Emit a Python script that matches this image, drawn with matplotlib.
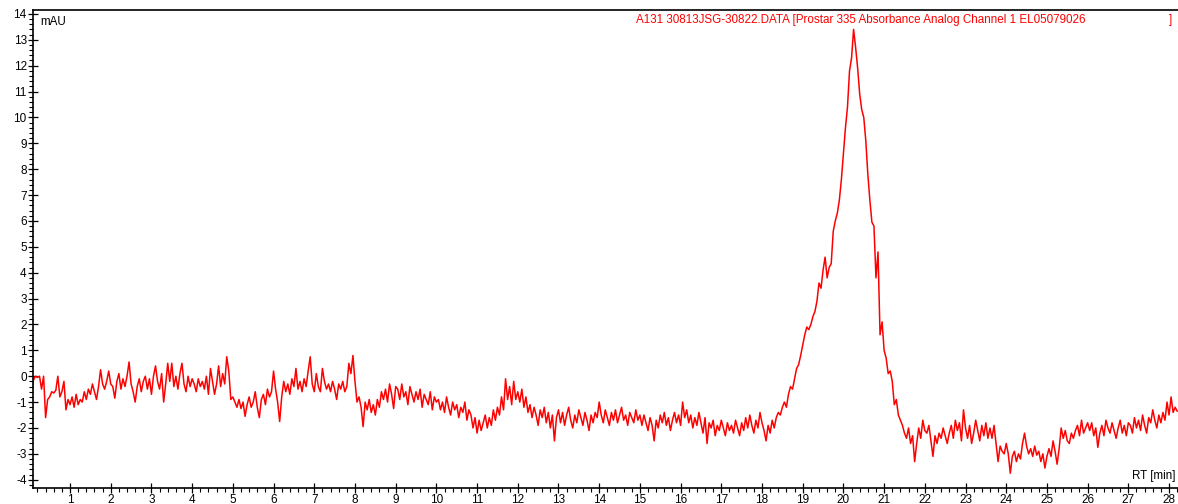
import numpy as np
import matplotlib
matplotlib.use("Agg")
import matplotlib.pyplot as plt
from matplotlib.ticker import MultipleLocator

# ---- data ----
rt_start = 0.05      # first sample time [min]
rt_step = 0.05       # sampling interval [min]

mau_values = [
    # 0.05 - 1.00
    -0.8, -0.15, 0.0, -0.05, 0.0, -0.5, 0.0, -1.6, -0.9, -0.8, -0.6, -0.65, -0.55, 0.0, -0.8, -0.6, -0.2, -1.3, -0.9, -1.1,
    # 1.05 - 2.00
    -0.8, -1.2, -0.7, -1.1, -0.9, -1.0, -0.6, -0.9, -0.5, -0.7, -0.3, -0.6, -0.9, -0.4, 0.25, -0.3, -0.5, -0.2, 0.2, -0.3,
    # 2.05 - 3.00
    -0.4, -0.85, -0.2, 0.1, -0.5, -0.1, -0.4, 0.0, 0.55, -0.3, -0.6, -1.0, -0.4, -0.1, -0.6, -0.2, 0.0, -0.5, -0.1, -0.7,
    # 3.05 - 4.00
    0.0, 0.4, -0.2, -0.5, 0.1, -1.0, -0.3, 0.5, -0.2, 0.5, -0.4, 0.0, -0.5, 0.1, 0.5, -0.3, -0.6, 0.0, -0.4, -0.1,
    # 4.05 - 5.00
    -0.3, -0.6, -0.1, -0.4, -0.2, -0.5, 0.0, -0.7, 0.3, -0.2, -0.7, -0.3, 0.4, -0.4, 0.1, -0.3, 0.75, 0.2, -0.9, -0.8,
    # 5.05 - 6.00
    -1.0, -1.2, -0.9, -1.25, -1.0, -1.55, -1.1, -0.8, -1.2, -1.0, -0.6, -1.2, -1.6, -0.9, -0.7, -1.1, -0.5, -0.8, -0.6, 0.2,
    # 6.05 - 7.00
    -0.5, -1.0, -1.75, -0.8, -0.2, -0.6, -0.3, -0.7, -0.1, -0.4, 0.3, -0.5, -0.2, -0.6, -0.1, -0.4, 0.2, 0.75, -0.3, -0.6,
    # 7.05 - 8.00
    0.1, -0.4, -0.6, 0.3, -0.2, -0.5, -0.3, -0.6, -0.2, -0.5, -0.9, -0.3, -0.5, -0.2, -0.6, -0.4, 0.5, 0.1, 0.8, -0.2,
    # 8.05 - 9.00
    -1.0, -0.8, -1.2, -1.95, -1.0, -1.3, -0.9, -1.4, -1.1, -1.5, -0.9, -1.2, -0.6, -0.9, -0.5, -1.0, -0.3, -0.7, -1.25, -0.4,
    # 9.05 - 10.00
    -0.5, -0.9, -0.3, -0.8, -0.6, -1.1, -0.4, -0.7, -1.0, -0.6, -0.9, -0.5, -1.2, -0.7, -0.9, -1.1, -0.6, -1.3, -0.8, -1.0,
    # 10.05 - 11.00
    -0.9, -1.3, -1.0, -1.4, -0.8, -1.2, -1.5, -1.0, -1.3, -1.1, -1.6, -1.2, -1.4, -1.0, -1.7, -1.3, -1.5, -2.0, -1.6, -2.2,
    # 11.05 - 12.00
    -1.7, -2.1, -1.8, -1.5, -2.0, -1.6, -1.9, -1.3, -1.7, -1.2, -1.5, -0.8, -1.3, -0.1, -0.9, -0.4, -1.1, -0.2, -0.9, -0.6,
    # 12.05 - 13.00
    -1.0, -0.5, -1.2, -0.8, -1.4, -1.1, -1.6, -1.2, -1.5, -1.9, -1.3, -1.6, -1.2, -1.8, -1.4, -2.0, -1.5, -2.5, -1.6, -1.3,
    # 13.05 - 14.00
    -1.8, -1.4, -1.9, -1.5, -1.2, -1.7, -2.0, -1.5, -1.8, -1.3, -1.6, -1.9, -1.4, -1.7, -2.1, -1.5, -1.8, -1.4, -1.6, -1.0,
    # 14.05 - 15.00
    -1.5, -1.8, -1.3, -1.6, -1.9, -1.4, -1.7, -1.3, -1.8, -1.5, -1.2, -1.7, -1.5, -1.9, -1.4, -1.6, -1.8, -1.3, -1.7, -1.5,
    # 15.05 - 16.00
    -1.9, -1.5, -1.8, -2.1, -1.6, -1.9, -2.5, -1.7, -2.0, -1.5, -1.8, -1.4, -1.9, -1.6, -2.1, -1.7, -1.4, -1.8, -1.5, -1.9,
    # 16.05 - 17.00
    -1.0, -1.6, -1.3, -1.8, -1.5, -2.0, -1.6, -1.9, -1.4, -1.8, -2.2, -1.6, -2.6, -1.8, -2.0, -1.7, -2.3, -1.9, -2.1, -1.7,
    # 17.05 - 18.00
    -2.0, -2.3, -1.8, -2.1, -1.9, -2.2, -1.7, -2.0, -2.3, -1.8, -2.1, -1.6, -2.0, -1.5, -1.9, -2.2, -1.7, -2.0, -1.4, -1.8,
    # 18.05 - 19.00
    -2.1, -2.5, -1.9, -2.2, -1.7, -2.0, -1.6, -1.4, -1.5, -1.2, -1.0, -1.2, -0.7, -0.4, -0.5, -0.1, 0.3, 0.45, 0.8, 1.2,
    # 19.05 - 20.00
    1.6, 1.9, 1.8, 2.0, 2.3, 2.5, 2.9, 3.6, 3.4, 4.1, 4.6, 3.8, 4.2, 4.35, 5.6, 6.0, 6.3, 6.8, 7.6, 8.6,
    # 20.05 - 21.00
    9.6, 10.4, 11.8, 12.3, 13.4, 12.7, 11.9, 10.9, 10.3, 10.0, 9.1, 7.8, 6.8, 5.95, 5.8, 3.8, 4.8, 1.6, 2.1, 1.0,
    # 21.05 - 22.00
    0.7, 0.1, 0.2, -0.2, -1.1, -0.9, -1.5, -1.7, -1.9, -2.2, -2.4, -2.0, -2.6, -2.3, -3.3, -2.6, -2.0, -2.4, -1.7, -2.1,
    # 22.05 - 23.00
    -2.2, -1.9, -2.5, -3.1, -2.3, -2.6, -2.2, -2.4, -2.0, -2.3, -2.6, -2.2, -1.9, -2.4, -1.7, -2.1, -1.8, -2.5, -1.3, -2.0,
    # 23.05 - 24.00
    -2.4, -1.9, -2.6, -2.2, -1.7, -2.1, -2.5, -1.9, -2.3, -1.8, -2.4, -2.0, -2.4, -1.9, -2.6, -3.3, -2.7, -2.9, -3.0, -2.6,
    # 24.05 - 25.00
    -3.0, -3.75, -3.1, -2.9, -3.3, -3.0, -3.2, -2.6, -2.2, -2.7, -3.0, -2.8, -3.1, -2.7, -3.05, -2.9, -3.3, -3.0, -3.55, -3.1,
    # 25.05 - 26.00
    -2.8, -3.1, -2.5, -2.9, -3.4, -2.8, -2.0, -2.4, -2.1, -2.5, -2.6, -2.2, -2.4, -2.1, -1.9, -2.3, -1.7, -2.2, -2.0, -1.8,
    # 26.05 - 27.00
    -2.1, -1.8, -2.3, -2.0, -2.75, -2.2, -1.9, -2.3, -1.7, -2.0, -2.2, -1.8, -2.1, -2.4, -2.0, -1.7, -2.2, -1.9, -2.3, -1.8,
    # 27.05 - 28.00
    -1.9, -2.2, -1.6, -2.0, -1.7, -2.1, -1.5, -1.9, -2.2, -1.6, -1.8, -1.3, -1.7, -2.0, -1.5, -1.8, -1.4, -1.7, -1.0, -1.5,
    # 28.05 - 28.20
    -0.8, -1.4, -1.2, -1.35,
]

x_ticks = list(range(1, 29))
y_ticks = list(range(-4, 15))
header_text = "A131 30813JSG-30822.DATA [Prostar 335 Absorbance Analog Channel 1 EL05079026"
y_unit = "mAU"
x_unit = "RT [min]"

rt_values = rt_start + rt_step * np.arange(len(mau_values))

# ---- figure ----
plt.rcParams['font.family'] = ['Liberation Sans', 'DejaVu Sans']
plt.rcParams['axes.unicode_minus'] = False
W, H = 1178, 504
fig = plt.figure(figsize=(W / 100, H / 100), dpi=100)
left_px, right_px, top_px, bottom_px = 33, 1178, 9.5, 488
ax = fig.add_axes([left_px / W, (H - bottom_px) / H,
                   (right_px - left_px) / W, (bottom_px - top_px) / H])

ax.plot(rt_values, mau_values, color='#ff0000', lw=1.1)

ax.set_xlim(0.09, 28.22)
ax.set_ylim(-4.32, 14.17)

ax.set_xticks(x_ticks)
ax.set_yticks(y_ticks)
ax.xaxis.set_minor_locator(MultipleLocator(0.2))
ax.yaxis.set_minor_locator(MultipleLocator(0.2))
ax.tick_params(which='major', direction='inout', length=7, width=0.9,
               labelsize=8.5, colors='black', pad=1)
ax.tick_params(which='minor', direction='out', length=3, width=0.8)
ax.tick_params(axis='y', which='major', pad=1)

for s in ['left', 'bottom', 'top']:
    ax.spines[s].set_linewidth(1.2)
ax.spines['right'].set_visible(False)

fs = 8.4
ax.text(40, H - 22, y_unit, transform=None, fontsize=fs, va='center', ha='left')
ax.text(1175, H - 476, x_unit, transform=None, fontsize=fs, va='center', ha='right')
ax.text(636, H - 20, header_text, transform=None, fontsize=fs, color='#ff0000',
        va='center', ha='left')
ax.text(1169, H - 20, "]", transform=None, fontsize=fs, color='#ff0000',
        va='center', ha='left')

fig.savefig("out.png", dpi=100)
